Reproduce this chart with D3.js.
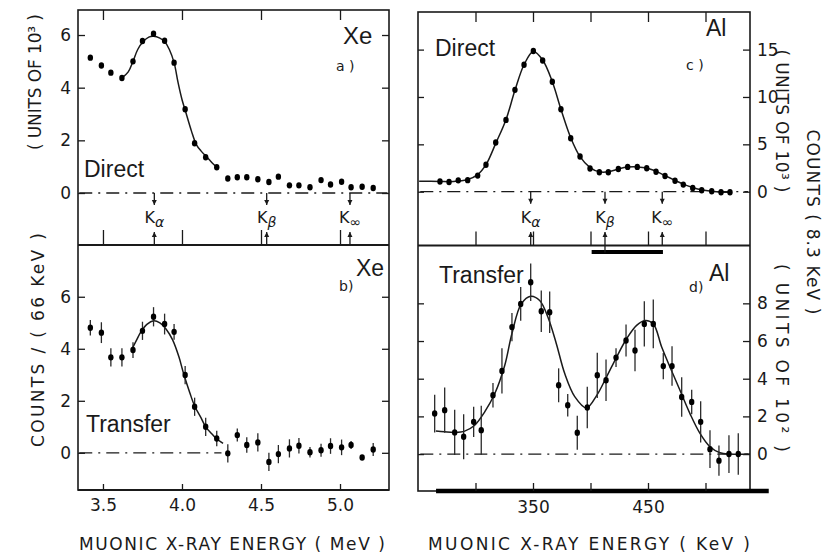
<!DOCTYPE html>
<html>
<head>
<meta charset="utf-8">
<script src="https://cdn.jsdelivr.net/npm/d3@7"></script>
<style>
  body { margin: 0; background: #fff; }
  svg { display: block; background: #fff; }
  .tick text { font-family: "DejaVu Sans", sans-serif; font-size: 17px; fill: #1a1a1a; }
  .tick line { stroke: #1a1a1a; stroke-width: 1.3; }
</style>
</head>
<body>
<svg id="fig" width="826" height="554"></svg>
<script>
// ---------- Xe spectra (muonic X-ray energy in MeV, 66 keV bins, counts in units of 10^3) ----------
const xeEnergy = [3.42, 3.49, 3.55, 3.62, 3.69, 3.75, 3.82, 3.89, 3.95, 4.02, 4.08, 4.15, 4.22, 4.29,
                  4.35, 4.41, 4.48, 4.55, 4.61, 4.68, 4.74, 4.81, 4.88, 4.94, 5.01, 5.07, 5.14, 5.21];
const xeDirect = [5.14, 4.84, 4.57, 4.37, 5.00, 5.77, 6.05, 5.78, 4.95, 3.18, 1.89, 1.36, 0.98, 0.55,
                  0.60, 0.60, 0.52, 0.42, 0.62, 0.29, 0.29, 0.22, 0.49, 0.32, 0.43, 0.22, 0.24, 0.19];
const xeTransfer = [4.81, 4.62, 3.67, 3.67, 3.95, 4.69, 5.23, 4.95, 4.65, 2.99, 1.77, 1.00, 0.55, -0.02,
                    0.68, 0.30, 0.40, -0.35, -0.05, 0.17, 0.27, 0.02, 0.10, 0.26, 0.21, 0.30, -0.18, 0.13];
const xeTransferErr = [0.30, 0.40, 0.35, 0.35, 0.30, 0.35, 0.37, 0.40, 0.30, 0.35, 0.35, 0.35, 0.30, 0.35,
                       0.25, 0.30, 0.35, 0.35, 0.35, 0.35, 0.30, 0.20, 0.25, 0.30, 0.30, 0.15, 0.10, 0.25];

// fitted line shapes
const xeDirectFitE = [3.62, 3.66, 3.69, 3.72, 3.755, 3.79, 3.82, 3.86, 3.89, 3.92, 3.95, 3.975, 4.00, 4.02,
                      4.06, 4.09, 4.12, 4.16, 4.19, 4.225];
const xeDirectFitV = [4.37, 4.60, 5.00, 5.45, 5.75, 5.92, 5.95, 5.88, 5.75, 5.45, 4.95, 4.20, 3.55, 3.15,
                      2.35, 1.85, 1.60, 1.35, 1.15, 0.95];
const xeTransferFitE = [3.68, 3.71, 3.74, 3.78, 3.82, 3.86, 3.90, 3.94, 3.98, 4.01, 4.05, 4.08, 4.12, 4.15,
                        4.19, 4.22, 4.26];
const xeTransferFitV = [3.95, 4.30, 4.65, 4.95, 5.08, 5.00, 4.75, 4.35, 3.70, 3.05, 2.30, 1.80, 1.35, 1.00,
                        0.72, 0.53, 0.36];

// ---------- Al spectra (energy in keV, 8.3 keV bins) ----------
const alDirectEnergy = [269.1, 277.0, 285.0, 293.2, 301.9, 309.1, 317.6, 326.5, 334.3, 342.2, 350.3, 358.4,
                        366.8, 374.3, 382.8, 390.9, 399.6, 407.7, 415.5, 424.2, 432.3, 440.7, 448.9, 457.0,
                        464.8, 473.5, 480.7, 488.9, 496.7, 505.4, 513.5, 521.3];
const alDirect = [1.08, 1.02, 1.20, 1.22, 1.70, 2.85, 5.20, 7.58, 10.75, 13.40, 14.85, 13.85,
                  11.60, 8.70, 5.65, 3.72, 2.45, 2.05, 2.05, 2.40, 2.62, 2.62, 2.48, 2.10,
                  1.65, 1.15, 0.75, 0.40, 0.16, 0.04, -0.06, -0.06];
const alDirectFitE = [251, 269.1, 277.0, 285.0, 293.2, 301.9, 309.1, 317.6, 326.5, 334.3, 342.2, 350.3, 358.4,
                      366.8, 374.3, 382.8, 390.9, 399.6, 407.7, 415.5, 424.2, 432.3, 440.7, 448.9, 457.0,
                      464.8, 473.5, 480.7, 488.9, 496.7, 505.4, 513.5, 521.3];
const alDirectFitV = [1.10, 1.08, 1.05, 1.12, 1.28, 1.80, 2.85, 5.10, 7.60, 10.70, 13.40, 14.80, 13.90,
                      11.60, 8.70, 5.70, 3.70, 2.55, 2.10, 2.10, 2.40, 2.60, 2.62, 2.50, 2.15,
                      1.70, 1.20, 0.80, 0.45, 0.20, 0.05, -0.03, -0.05];

// counts in units of 10^2
const alTransferEnergy = [264.5, 273.2, 281.9, 289.7, 298.4, 305.0, 315.2, 323.0, 331.7, 339.3, 348.0, 357.2,
                          364.5, 372.3, 380.2, 388.5, 397.2, 405.9, 413.5, 422.2, 430.9, 438.7, 446.8, 454.6,
                          463.3, 470.9, 479.3, 488.0, 495.8, 503.9, 511.7, 520.4, 528.5];
const alTransfer = [2.15, 2.33, 1.15, 0.92, 1.71, 1.27, 3.12, 4.41, 6.74, 7.97, 9.12, 7.58,
                    7.53, 3.65, 2.59, 1.13, 2.47, 4.18, 3.92, 5.12, 6.03, 5.50, 6.91, 6.91,
                    4.67, 4.67, 3.03, 2.77, 1.71, 0.26, -0.35, 0.00, 0.00];
const alTransferErr = [1.0, 1.2, 1.2, 1.2, 0.8, 1.3, 0.65, 1.2, 0.75, 0.9, 1.0, 1.1,
                       1.1, 0.9, 0.6, 0.9, 1.1, 1.2, 1.1, 0.5, 0.85, 1.1, 1.2, 1.3,
                       0.7, 1.05, 1.05, 0.65, 1.1, 1.0, 0.8, 1.0, 1.1];
const alTransferFitE = [265.5, 273.0, 281.9, 290.6, 299.3, 308.0, 316.7, 325.4, 331.7, 339.8, 348.0, 355.8,
                        363.0, 370.3, 377.6, 386.3, 396.5, 405.3, 414.0, 422.7, 431.4, 440.1, 447.4, 454.6,
                        461.9, 469.1, 477.8, 486.5, 495.2, 503.9, 512.6, 521.3, 538.7];
const alTransferFitV = [1.22, 1.18, 1.15, 1.22, 1.53, 2.24, 3.20, 4.70, 6.40, 7.97, 8.38, 8.15,
                        7.26, 5.86, 4.27, 3.05, 2.45, 3.10, 4.10, 5.15, 6.12, 6.83, 7.09, 6.91,
                        5.68, 4.62, 3.39, 2.15, 1.10, 0.39, 0.07, 0.00, 0.00];

// ---------- axis ticks and markers ----------
const xeEnergyTicks = [3.5, 4.0, 4.5, 5.0];
const xeCountTicks = [0, 2, 4, 6];
const alEnergyTicks = [300, 350, 400, 450, 500];
const alEnergyLabels = [350, 450];
const alDirectTicks = [0, 5, 10, 15];
const alTransferTicks = [0, 2, 4, 6, 8];
const lineNames = ["α", "β", "∞"];
const xeLineEnergy = [3.825, 4.536, 5.063];
const alLineEnergy = [348, 412.6, 462.4];
const alWindow = [401, 463];
const alBaseBar = [265.7, 555];

// ---------- geometry ----------
const ink = "#1a1a1a";
const svg = d3.select("#fig");
const left = { x0: 78, x1: 389, top: 10, mid: 245, bottom: 490 };
const right = { x0: 418, x1: 750, top: 12, mid: 245.5, bottom: 491 };

const xMeV = d3.scaleLinear().domain([3.342, 5.310]).range([left.x0, left.x1]);
const yA = d3.scaleLinear().domain([-1.975, 6.95]).range([left.mid, left.top]);
const yB = d3.scaleLinear().domain([-1.43, 7.99]).range([left.bottom, left.mid]);
const xKeV = d3.scaleLinear().domain([250, 538.7]).range([right.x0, right.x1]);
const yC = d3.scaleLinear().domain([-5.68, 18.97]).range([right.mid, right.top]);
const yD = d3.scaleLinear().domain([-1.96, 11.07]).range([right.bottom, right.mid]);

function addAxis(axis, tx, ty) {
  const g = svg.append("g").attr("transform", `translate(${tx},${ty})`).call(axis);
  g.select(".domain").remove();
  return g;
}
const noLabel = () => "";

// ---------- frames ----------
function frame(p) {
  svg.append("rect").attr("x", p.x0).attr("y", p.top).attr("width", p.x1 - p.x0).attr("height", p.bottom - p.top)
    .attr("fill", "none").attr("stroke", ink).attr("stroke-width", 1.6);
  svg.append("line").attr("x1", p.x0).attr("x2", p.x1).attr("y1", p.mid).attr("y2", p.mid)
    .attr("stroke", ink).attr("stroke-width", 1.8);
}
frame(left);
frame(right);
svg.append("line").attr("x1", left.x0).attr("x2", left.x1).attr("y1", left.bottom).attr("y2", left.bottom)
  .attr("stroke", ink).attr("stroke-width", 2.2);
svg.append("line").attr("x1", xKeV(alBaseBar[0])).attr("x2", xKeV(alBaseBar[1]))
  .attr("y1", right.bottom).attr("y2", right.bottom).attr("stroke", "#000").attr("stroke-width", 4.5);
svg.append("line").attr("x1", xKeV(alWindow[0])).attr("x2", xKeV(alWindow[1]))
  .attr("y1", right.mid + 6.5).attr("y2", right.mid + 6.5).attr("stroke", "#000").attr("stroke-width", 4);

// ---------- ticks: Xe panels ----------
addAxis(d3.axisLeft(yA).tickValues(xeCountTicks).tickSize(-7).tickPadding(7), left.x0, 0);
addAxis(d3.axisRight(yA).tickValues(xeCountTicks).tickSize(-7).tickFormat(noLabel), left.x1, 0);
addAxis(d3.axisTop(xMeV).tickValues(xeEnergyTicks).tickSize(-10).tickFormat(noLabel), 0, left.top);
addAxis(d3.axisBottom(xMeV).tickValues(xeEnergyTicks).tickSize(-15).tickFormat(noLabel), 0, left.mid);
addAxis(d3.axisLeft(yB).tickValues(xeCountTicks).tickSize(-7).tickPadding(7), left.x0, 0);
addAxis(d3.axisRight(yB).tickValues(xeCountTicks).tickSize(-7).tickFormat(noLabel), left.x1, 0);
addAxis(d3.axisBottom(xMeV).tickValues(xeEnergyTicks).tickSize(-6).tickPadding(9).tickFormat(d3.format(".1f")), 0, left.bottom);

// ---------- ticks: Al panels ----------
addAxis(d3.axisLeft(yC).tickValues(alDirectTicks).tickSize(-6).tickFormat(noLabel), right.x0, 0);
addAxis(d3.axisRight(yC).tickValues(alDirectTicks).tickSize(-7).tickPadding(7), right.x1, 0);
addAxis(d3.axisTop(xKeV).tickValues(alEnergyTicks).tickSize(-10).tickFormat(noLabel), 0, right.top);
addAxis(d3.axisBottom(xKeV).tickValues(alEnergyTicks).tickSize(-14).tickFormat(noLabel), 0, right.mid);
addAxis(d3.axisLeft(yD).tickValues(alTransferTicks).tickSize(-6).tickFormat(noLabel), right.x0, 0);
addAxis(d3.axisRight(yD).tickValues(alTransferTicks).tickSize(-7).tickPadding(7), right.x1, 0);
addAxis(d3.axisBottom(xKeV).tickValues(alEnergyTicks).tickSize(-8).tickPadding(10)
  .tickFormat(d => alEnergyLabels.includes(d) ? d3.format("d")(d) : ""), 0, right.bottom);

// ---------- zero lines ----------
function zeroLine(x, y, e0, e1) {
  svg.append("line").attr("x1", x(e0)).attr("x2", x(e1)).attr("y1", y(0)).attr("y2", y(0))
    .attr("stroke", ink).attr("stroke-width", 1.3).attr("stroke-dasharray", "13,6,2,6");
}
zeroLine(xMeV, yA, 3.35, 5.30);
zeroLine(xMeV, yB, 3.35, 4.25);
zeroLine(xKeV, yC, 252, 537);
zeroLine(xKeV, yD, 252, 537);

// ---------- fits ----------
function fitCurve(x, y, es, vs) {
  const line = d3.line().x(d => x(d[0])).y(d => y(d[1])).curve(d3.curveCatmullRom.alpha(0.5));
  svg.append("path").attr("d", line(d3.zip(es, vs))).attr("fill", "none")
    .attr("stroke", ink).attr("stroke-width", 1.5);
}
fitCurve(xMeV, yA, xeDirectFitE, xeDirectFitV);
fitCurve(xMeV, yB, xeTransferFitE, xeTransferFitV);
fitCurve(xKeV, yC, alDirectFitE, alDirectFitV);
fitCurve(xKeV, yD, alTransferFitE, alTransferFitV);

// ---------- data points ----------
function errorBars(x, y, es, vs, errs) {
  svg.append("g").selectAll("line").data(d3.range(es.length)).join("line")
    .attr("x1", i => x(es[i])).attr("x2", i => x(es[i]))
    .attr("y1", i => y(vs[i] - errs[i])).attr("y2", i => y(vs[i] + errs[i]))
    .attr("stroke", "#2a2a2a").attr("stroke-width", 1.3);
}
function points(x, y, es, vs) {
  svg.append("g").selectAll("ellipse").data(d3.range(es.length)).join("ellipse")
    .attr("cx", i => x(es[i])).attr("cy", i => y(vs[i])).attr("rx", 2.7).attr("ry", 3.2)
    .attr("fill", "#000");
}
errorBars(xMeV, yB, xeEnergy, xeTransfer, xeTransferErr);
errorBars(xKeV, yD, alTransferEnergy, alTransfer, alTransferErr);
points(xMeV, yA, xeEnergy, xeDirect);
points(xMeV, yB, xeEnergy, xeTransfer);
points(xKeV, yC, alDirectEnergy, alDirect);
points(xKeV, yD, alTransferEnergy, alTransfer);

// ---------- K-line markers ----------
function arrow(xp, yFrom, yTo) {
  svg.append("line").attr("x1", xp).attr("x2", xp).attr("y1", yFrom).attr("y2", yTo)
    .attr("stroke", ink).attr("stroke-width", 1.3);
  const dir = yTo > yFrom ? 1 : -1;
  svg.append("path").attr("d", `M${xp - 2.5},${yTo - dir * 5}L${xp + 2.5},${yTo - dir * 5}L${xp},${yTo}Z`)
    .attr("fill", ink);
}
function kMarkers(x, y, energies, bottomY, extraBottom) {
  energies.forEach((e, i) => {
    const xp = x(e);
    arrow(xp, y(0), y(0) + 12);
    arrow(xp, bottomY + (extraBottom[i] || 0), 232);
    const t = svg.append("text").attr("x", xp).attr("y", 223).attr("text-anchor", "middle")
      .attr("font-family", "DejaVu Sans, sans-serif").attr("font-size", 16).attr("fill", ink);
    t.append("tspan").text("K");
    t.append("tspan").attr("font-size", 14).attr("dy", 4).attr("font-style", "italic").text(lineNames[i]);
  });
}
kMarkers(xMeV, yA, xeLineEnergy, left.mid, [0, 0, 0]);
kMarkers(xKeV, yC, alLineEnergy, right.mid, [0, 7, 0]);

// ---------- panel labels ----------
function label(str, x, y, size, family, anchor) {
  return svg.append("text").attr("x", x).attr("y", y).attr("font-size", size)
    .attr("font-family", family).attr("fill", ink).attr("text-anchor", anchor || "start").text(str);
}
const sans = "Liberation Sans, Arial, sans-serif";
const lettering = "DejaVu Sans, sans-serif";
label("Xe", 343, 44, 24, sans);
label("a )", 336, 71, 14, lettering);
label("Direct", 84, 177, 23, sans);
label("Xe", 356, 276, 23, sans);
label("b)", 339, 291, 14, lettering);
label("Transfer", 86, 432, 23, sans);
label("Al", 706, 36, 23, sans);
label("c )", 686, 70, 14, lettering);
label("Direct", 435, 56, 23, sans);
label("Al", 709, 281, 23, sans);
label("d)", 689, 292, 14, lettering);
label("Transfer", 439, 283, 23, sans);

// ---------- axis titles ----------
function title(str, cx, cy, angle, len, size) {
  svg.append("text").attr("transform", `translate(${cx},${cy}) rotate(${angle})`)
    .attr("text-anchor", "middle").attr("dominant-baseline", "central")
    .attr("font-family", lettering).attr("font-size", size).attr("fill", ink)
    .attr("textLength", len).attr("lengthAdjust", "spacing").text(str);
}
title("MUONIC  X-RAY  ENERGY ( MeV )", 232, 544, 0, 306, 17);
title("MUONIC  X-RAY  ENERGY  ( KeV )", 589, 544, 0, 322, 17);
title("( UNITS OF 10³ )", 35, 82, -90, 136, 17);
title("COUNTS / ( 66 KeV )", 38, 340, -90, 214, 17);
title("( UNITS OF 10³ )", 782, 121, 90, 143, 17);
title("COUNTS  ( 8.3 KeV )", 813, 222, 90, 185, 17);
title("( UNITS OF 10² )", 782, 358, 90, 188, 17);
</script>
</body>
</html>
